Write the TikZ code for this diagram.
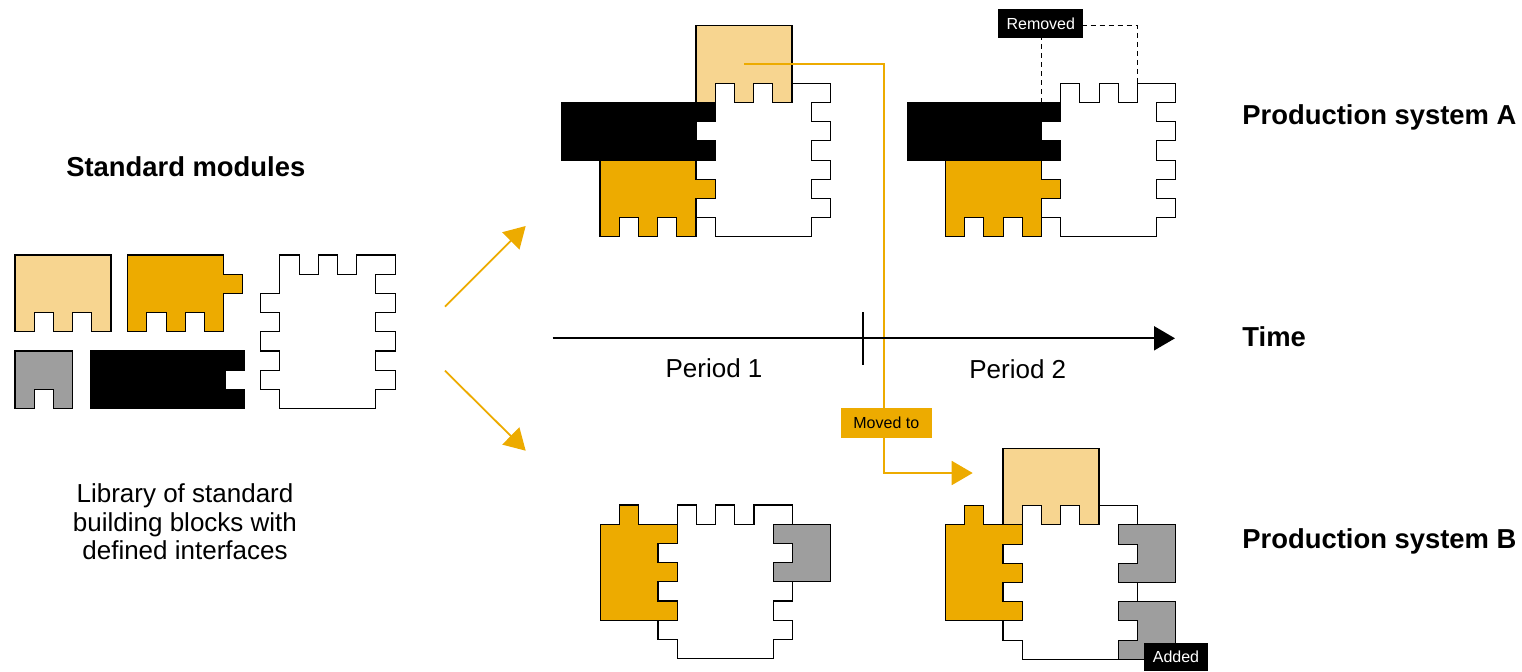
\documentclass[tikz,border=0pt]{standalone}
\usepackage{fontspec}
\setmainfont{Liberation Sans}
\usetikzlibrary{arrows.meta}

\definecolor{lightyel}{HTML}{F7D590}
\definecolor{modorange}{HTML}{EDAB00}
\definecolor{modgray}{HTML}{9E9E9E}

\tikzset{
 piece/.style={draw=black,line width=0.55pt,x=9.6pt,y=-9.6pt},
 light block/.pic={\draw[piece,fill=lightyel] (0,0) -- (5,0) -- (5,4) -- (4,4) -- (4,3) -- (3,3) -- (3,4) -- (2,4) -- (2,3) -- (1,3) -- (1,4) -- (0,4) -- cycle;},
 orange block/.pic={\draw[piece,fill=modorange] (0,0) -- (5,0) -- (5,1) -- (6,1) -- (6,2) -- (5,2) -- (5,4) -- (4,4) -- (4,3) -- (3,3) -- (3,4) -- (2,4) -- (2,3) -- (1,3) -- (1,4) -- (0,4) -- cycle;},
 orange upright/.pic={\draw[piece,fill=modorange] (0,0) -- (1,0) -- (1,-1) -- (2,-1) -- (2,0) -- (4,0) -- (4,1) -- (3,1) -- (3,2) -- (4,2) -- (4,3) -- (3,3) -- (3,4) -- (4,4) -- (4,5) -- (0,5) -- cycle;},
 gray block/.pic={\draw[piece,fill=modgray] (0,0) -- (3,0) -- (3,3) -- (2,3) -- (2,2) -- (1,2) -- (1,3) -- (0,3) -- cycle;},
 gray side/.pic={\draw[piece,fill=modgray] (0,0) -- (3,0) -- (3,3) -- (0,3) -- (0,2) -- (1,2) -- (1,1) -- (0,1) -- cycle;},
 black block/.pic={\draw[piece,fill=black] (0,0) -- (8,0) -- (8,1) -- (7,1) -- (7,2) -- (8,2) -- (8,3) -- (0,3) -- cycle;},
 white block/.pic={\draw[piece,fill=white] (1,0) -- (2,0) -- (2,1) -- (3,1) -- (3,0) -- (4,0) -- (4,1) -- (5,1) -- (5,0) -- (7,0) -- (7,1) -- (6,1) -- (6,2) -- (7,2) -- (7,3) -- (6,3) -- (6,4) -- (7,4) -- (7,5) -- (6,5) -- (6,6) -- (7,6) -- (7,7) -- (6,7) -- (6,8) -- (1,8) -- (1,7) -- (0,7) -- (0,6) -- (1,6) -- (1,5) -- (0,5) -- (0,4) -- (1,4) -- (1,3) -- (0,3) -- (0,2) -- (1,2) -- cycle;},
}

\begin{document}
\begin{tikzpicture}[>={Triangle[length=10.5pt,width=12pt]},x=0.5pt,y=-0.5pt,
 headtext/.style={font=\fontsize{13.7}{16}\selectfont\bfseries,inner sep=0pt},
 bodytext/.style={font=\fontsize{13}{14.25}\selectfont,inner sep=0pt},
 tagbox/.style={font=\fontsize{8}{9.6}\selectfont,inner sep=0pt,minimum height=14.7pt},
 flowline/.style={draw=modorange,line width=0.9pt},
]

 \useasboundingbox (0,0) rectangle (1522,671);

 % library of modules
 \pic at (15,255) {light block};
 \pic at (127.7,255) {orange block};
 \pic at (15,351) {gray block};
 \pic at (91,351) {black block};
 \pic at (260.7,255) {white block};

 % system A, period 1 and 2
 \pic at (696,25.7) {light block};
 \pic at (561.6,102.5) {black block};
 \pic at (600,160.1) {orange block};
 \pic at (696,83.3) {white block};

 \pic at (907.1,102.5) {black block};
 \pic at (945.5,160.1) {orange block};
 \pic at (1041.5,83.3) {white block};

 % system B, period 1 and 2
 \pic at (600.4,524.2) {orange upright};
 \pic at (773.2,524.2) {gray side};
 \pic at (658,505) {white block};

 \pic at (1003,448.1) {light block};
 \pic at (945.4,524.9) {orange upright};
 \pic at (1118.2,524.9) {gray side};
 \pic at (1118.2,601.7) {gray side};
 \pic at (1003,505.7) {white block};

 \node (node_std) at (185.8,176.7) [headtext,anchor=base] {Standard modules};
 \node (node_lib) at (185,522) [bodytext,align=center] {Library of standard\\building blocks with\\defined interfaces};
 \node (node_sysA) at (1242,124.3) [headtext,anchor=base west] {Production system A};
 \node (node_time) at (1242,346.7) [headtext,anchor=base west] {Time};
 \node (node_sysB) at (1242,548.3) [headtext,anchor=base west] {Production system B};
 \node (node_p1) at (714,377.7) [bodytext,anchor=base] {Period 1};
 \node (node_p2) at (1017.8,378.3) [bodytext,anchor=base] {Period 2};

 \coordinate (up_s) at (445,306.7);
 \coordinate (up_e) at (525.7,226);
 \coordinate (dn_s) at (445,370.7);
 \coordinate (dn_e) at (525.7,450.7);
 \coordinate (mv_s) at (744.3,64);
 \coordinate (mv_bend) at (884.3,473);
 \coordinate (mv_e) at (972.7,473);
 \coordinate (t_s) at (552.7,338.3);
 \coordinate (t_e) at (1175,338.3);
 \coordinate (tick_top) at (863.3,312.3);
 \coordinate (tick_bot) at (863.3,365);
 \coordinate (rm_a) at (1041.5,102.5);
 \coordinate (rm_b) at (1041.5,25.7);
 \coordinate (rm_c) at (1137.5,25.7);
 \coordinate (rm_d) at (1137.5,83.3);

  \draw [flowline,->] (up_s) -- (up_e);
  \draw [flowline,->] (dn_s) -- (dn_e);
  \draw [flowline,->] (mv_s) -| (mv_bend) -- (mv_e);
  \draw [black,line width=1pt,->] (t_s) -- (t_e);
  \draw [black,line width=1pt] (tick_top) -- (tick_bot);
  \draw [black,line width=0.5pt,dash pattern=on 2.5pt off 2pt] (rm_a) -- (rm_b) -- (rm_c) -- (rm_d);

 \node (node_moved) at (886.3,422.8) [tagbox,fill=modorange,minimum width=45.3pt] {Moved to};
 \node (node_removed) at (1040.8,23.7) [tagbox,fill=black,text=white,minimum width=42.5pt] {Removed};
 \node (node_added) at (1176,656.7) [tagbox,fill=black,text=white,minimum width=32pt,minimum height=14pt] {Added};

\end{tikzpicture}
\end{document}
